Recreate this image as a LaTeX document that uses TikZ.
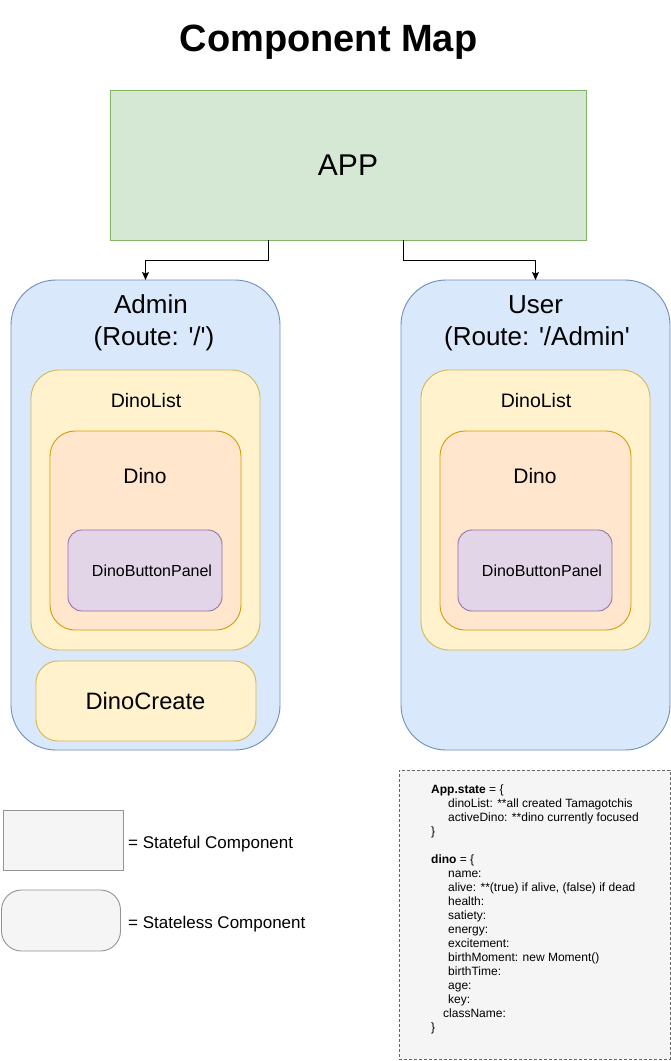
\documentclass[tikz,border=0pt]{standalone}
\usepackage{fontspec}
\setmainfont{Liberation Sans}
\usetikzlibrary{arrows.meta}
\definecolor{appfill}{HTML}{D5E8D4}\definecolor{appdraw}{HTML}{82B366}
\definecolor{bluefill}{HTML}{DAE8FC}\definecolor{bluedraw}{HTML}{6C8EBF}
\definecolor{yelfill}{HTML}{FFF2CC}\definecolor{yeldraw}{HTML}{D6B656}
\definecolor{orafill}{HTML}{FFE6CC}\definecolor{oradraw}{HTML}{D79B00}
\definecolor{purfill}{HTML}{E1D5E7}\definecolor{purdraw}{HTML}{9673A6}
\definecolor{grayfill}{HTML}{F5F5F5}\definecolor{graydraw}{HTML}{666666}
\newcommand{\fs}[1]{\fontsize{#1}{#1}\selectfont}
\begin{document}
\begin{tikzpicture}[x=1pt,y=-1pt,
  box/.style={inner sep=0pt,outer sep=0pt,line width=0.9pt},
  appbox/.style={box,fill=appfill,draw=appdraw},
  bluebox/.style={box,fill=bluefill,draw=bluedraw,rounded corners=45pt},
  listbox/.style={box,fill=yelfill,draw=yeldraw,rounded corners=28pt},
  createbox/.style={box,fill=yelfill,draw=yeldraw,rounded corners=22pt},
  dinobox/.style={box,fill=orafill,draw=oradraw,rounded corners=25pt},
  panelbox/.style={box,fill=purfill,draw=purdraw,rounded corners=14pt},
  statefulbox/.style={box,fill=grayfill,draw=graydraw!70},
  statelessbox/.style={box,fill=grayfill,draw=graydraw!70,rounded corners=20pt},
  notebox/.style={box,fill=grayfill,draw=graydraw,dash pattern=on 3pt off 2pt},
  lbl/.style={anchor=base,inner sep=0pt},
  lgd/.style={anchor=base west,inner sep=0pt,font=\fs{17}},
  code/.style={anchor=base west,inner sep=0pt,font=\fs{12}},
  arr/.style={line width=0.9pt,-{Stealth[length=8pt,width=7pt,inset=1.5pt]}}
]
\useasboundingbox (0,0) rectangle (671,1061);

\node[lbl,font=\bfseries\fs{38}] (title) at (328.5,51) {Component Map};

\node[appbox,minimum width=476pt,minimum height=150pt] (app) at (348,165) {};
\node[lbl,font=\fs{30}] (apptext) at (348,175) {APP};

% Admin
\node[bluebox,minimum width=269pt,minimum height=470pt] (admin) at (145.5,515) {};
\node[lbl,font=\fs{26}] (admint1) at (151,313) {Admin};
\node[lbl,font=\fs{26}] (admint2) at (154,345) {(Route: \textquotesingle/\textquotesingle)};
\node[listbox,minimum width=229pt,minimum height=280pt] (alist) at (145.5,510) {};
\node[lbl,font=\fs{19.5}] (alistt) at (146,407) {DinoList};
\node[dinobox,minimum width=191pt,minimum height=199pt] (adino) at (145.5,530.5) {};
\node[lbl,font=\fs{21}] (adinot) at (145,483) {Dino};
\node[panelbox,minimum width=154pt,minimum height=81pt] (apanel) at (145,570.5) {};
\node[lbl,font=\fs{16}] (apanelt) at (152,576) {DinoButtonPanel};
\node[createbox,minimum width=220pt,minimum height=80pt] (acreate) at (146,701) {};
\node[lbl,font=\fs{23.7}] (acreatet) at (145.5,709) {DinoCreate};

% User
\node[bluebox,minimum width=269pt,minimum height=470pt] (user) at (535.5,515) {};
\node[lbl,font=\fs{26}] (usert1) at (535.5,313) {User};
\node[lbl,font=\fs{26}] (usert2) at (537,345) {(Route: \textquotesingle/Admin\textquotesingle};
\node[listbox,minimum width=229pt,minimum height=280pt] (ulist) at (535.5,510) {};
\node[lbl,font=\fs{19.5}] (ulistt) at (536,407) {DinoList};
\node[dinobox,minimum width=191pt,minimum height=199pt] (udino) at (535.5,530.5) {};
\node[lbl,font=\fs{21}] (udinot) at (535,483) {Dino};
\node[panelbox,minimum width=154pt,minimum height=81pt] (upanel) at (535,570.5) {};
\node[lbl,font=\fs{16}] (upanelt) at (542,576) {DinoButtonPanel};

% arrows
\draw[arr] ([xshift=-80pt]app.south) -- ++(0,20) -| (admin.north);
\draw[arr] ([xshift=55pt]app.south) -- ++(0,20) -| (user.north);

% legend
\node[statefulbox,minimum width=120pt,minimum height=60pt] (stateful) at (63,840) {};
\node[lgd] (statefult) at (128,848) {= Stateful Component};
\node[statelessbox,minimum width=119pt,minimum height=61pt] (stateless) at (61,920.5) {};
\node[lgd] (statelesst) at (128,928) {= Stateless Component};

% note
\node[notebox,minimum width=271pt,minimum height=289pt] (note) at (534.5,914.5) {};
\node[code] (c0) at (431,793) {\textbf{App.state} = \{};
\node[code] (c1) at (448,807) {dinoList: **all created Tamagotchis};
\node[code] (c2) at (448,821) {activeDino: **dino currently focused};
\node[code] (c3) at (431,835) {\}};
\node[code] (c5) at (431,863) {\textbf{dino} = \{};
\node[code] (c6) at (448,877) {name:};
\node[code] (c7) at (448,891) {alive: **(true) if alive, (false) if dead};
\node[code] (c8) at (448,905) {health:};
\node[code] (c9) at (448,919) {satiety:};
\node[code] (c10) at (448,933) {energy:};
\node[code] (c11) at (448,947) {excitement:};
\node[code] (c12) at (448,961) {birthMoment: new Moment()};
\node[code] (c13) at (448,975) {birthTime:};
\node[code] (c14) at (448,989) {age:};
\node[code] (c15) at (448,1003) {key:};
\node[code] (c16) at (443,1017) {className:};
\node[code] (c17) at (431,1031) {\}};
\end{tikzpicture}
\end{document}
